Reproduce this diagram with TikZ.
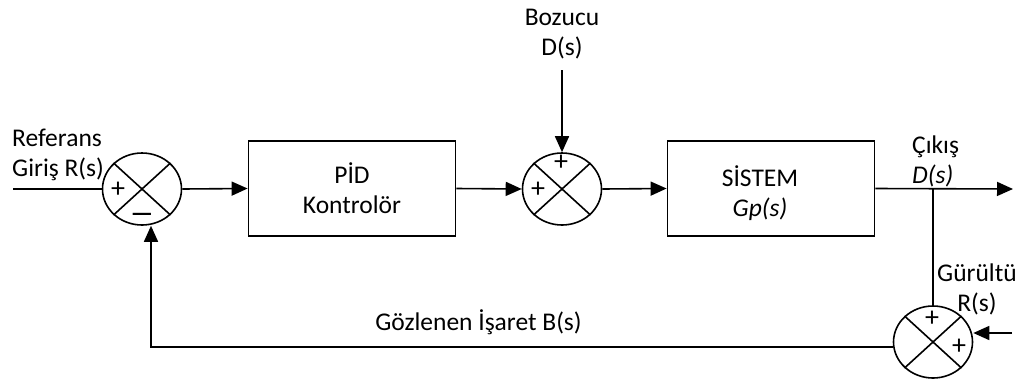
\documentclass[tikz,border=0pt]{standalone}
\usepackage{fontspec}
\setmainfont{Carlito}
\usepackage{tikz}
\usetikzlibrary{calc,arrows.meta,shapes.geometric}
\tikzset{
  ar/.style={-{Triangle[length=16pt,width=14pt]},line width=1.6pt},
  ln/.style={line width=1.6pt},
  blk/.style={draw,line width=1.8pt,minimum width=207pt,minimum height=95pt,align=center,inner sep=0pt},
  sumj/.style={draw,ellipse,line width=1.6pt,minimum width=79pt,minimum height=72pt,inner sep=0pt},
  lbl/.style={inner sep=0pt},
  sgn/.style={inner sep=0pt,font=\fontsize{28}{28}\selectfont}
}

\begin{document}
\begin{tikzpicture}[x=1pt,y=-1pt,font=\fontsize{25.5}{30}\selectfont]
\useasboundingbox (0,0) rectangle (1027,381);
% toplama noktalari
\node[sumj] (s1) at (142,189) {};
\node[sumj] (s2) at (562,189) {};
\node[sumj] (s3) at (933,342) {};
\foreach \s in {s1,s2,s3}
  \draw[ln] (\s.north west)--(\s.south east) (\s.north east)--(\s.south west);
\node[sgn] at ($(s1)+(-24,1)$) {+};
\node[sgn,font=\bfseries\fontsize{25}{25}\selectfont] at ($(s1)+(0,28)$) {—};
\node[sgn] at ($(s2)+(-1,-26)$) {+};
\node[sgn] at ($(s2)+(-24,1)$) {+};
\node[sgn] at ($(s3)+(-1,-23)$) {+};
\node[sgn] at ($(s3)+(26,5)$) {+};
% bloklar
\node[blk] (pid) at (352,188.5) {PİD\\Kontrolör};
\node[blk] (sis) at (771,188.5) {};
\node[lbl,align=center] (sistxt) at (760,193) {SİSTEM\\\textit{Gp(s)}};
% yazilar
\node[lbl,align=left,anchor=west] (ref) at (12,155) {Referans\\Giriş R(s)};
\node[lbl,align=center] (boz) at (562,34.5) {Bozucu\\D(s)};
\node[lbl,align=left,anchor=west] (cik) at (912,161) {Çıkış\\\textit{D(s)}};
\node[lbl,align=center] (gur) at (977,289) {Gürültü\\R(s)};
\node[lbl,anchor=base] (goz) at (478.5,330) {Gözlenen İşaret B(s)};
% baglantilar
\coordinate (in) at (13,189);
\coordinate (dist) at (562,70);
\coordinate (out) at (1013,189);
\coordinate (br) at (933,189);
\coordinate (nz) at (1012,333);
\coordinate (fb) at (151,347);
\draw[ln] (in) -- (s1.west);
\draw[ar] (s1.east) -- (pid.west);
\draw[ar] (pid.east) -- (s2.west);
\draw[ar] (dist) -- (s2.north);
\draw[ar] (s2.east) -- (sis.west);
\draw[ar] (sis.east) -- (out);
\draw[ln] (br) -- (s3.north);
\draw[ar] (nz) -- (nz -| s3.east);
\draw[ar] (s3.west |- fb) -- (fb) -- (fb |- s1.south);
\end{tikzpicture}
\end{document}
